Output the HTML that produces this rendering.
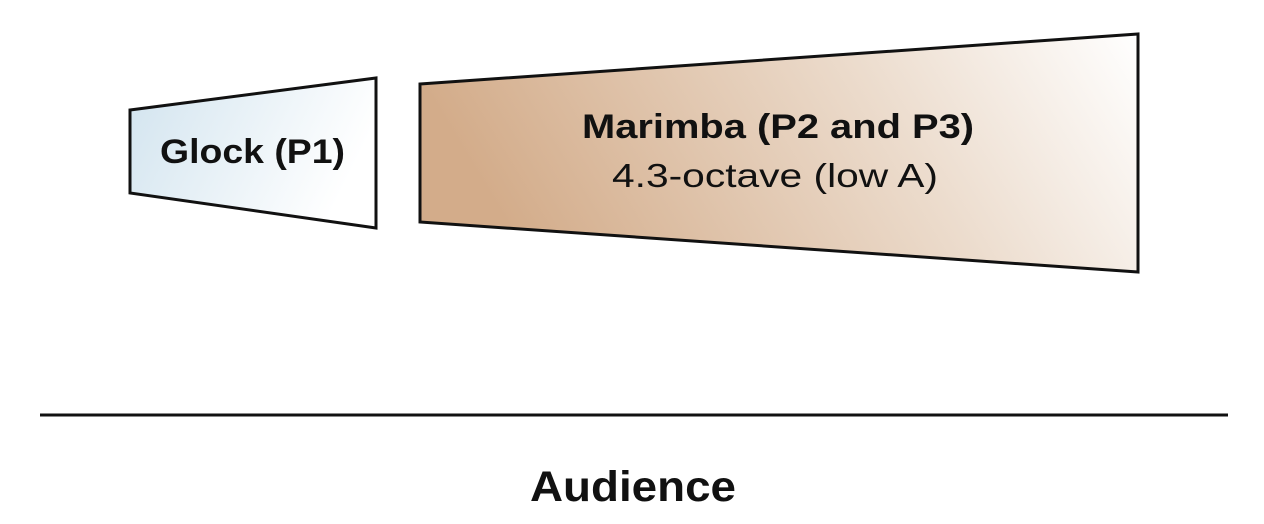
<!DOCTYPE html>
<html><head><meta charset="utf-8"><style>
html,body{margin:0;padding:0;background:#fff;}
svg{display:block;}
text{font-family:"Liberation Sans","DejaVu Sans",sans-serif;fill:#111;}
</style></head><body>
<svg width="1264" height="524" viewBox="0 0 1264 524" xmlns="http://www.w3.org/2000/svg">
<defs>
<linearGradient id="g1" x1="0" y1="0" x2="1" y2="0.3">
<stop offset="0" stop-color="#d2e4ef"/><stop offset="1" stop-color="#ffffff"/></linearGradient>
<linearGradient id="g2" x1="0" y1="0.2" x2="1" y2="0">
<stop offset="0" stop-color="#d3ac8a"/><stop offset="0.6" stop-color="#ecdccd"/><stop offset="1" stop-color="#ffffff"/></linearGradient>
</defs>
<polygon points="130,110 376,78 376,228 130,193" fill="url(#g1)" stroke="#111" stroke-width="3"/>
<polygon points="420,84 1138,34 1138,272 420,222" fill="url(#g2)" stroke="#111" stroke-width="3"/>
<text x="160" y="163" font-size="34" font-weight="bold" textLength="185" lengthAdjust="spacingAndGlyphs">Glock (P1)</text>
<text x="582" y="138" font-size="34" font-weight="bold" textLength="392" lengthAdjust="spacingAndGlyphs">Marimba (P2 and P3)</text>
<text x="612" y="187" font-size="33" textLength="326" lengthAdjust="spacingAndGlyphs">4.3-octave (low A)</text>
<line x1="40" y1="415" x2="1228" y2="415" stroke="#111" stroke-width="3"/>
<text x="530" y="501" font-size="43" font-weight="bold" textLength="206" lengthAdjust="spacingAndGlyphs">Audience</text>
</svg>
</body></html>
